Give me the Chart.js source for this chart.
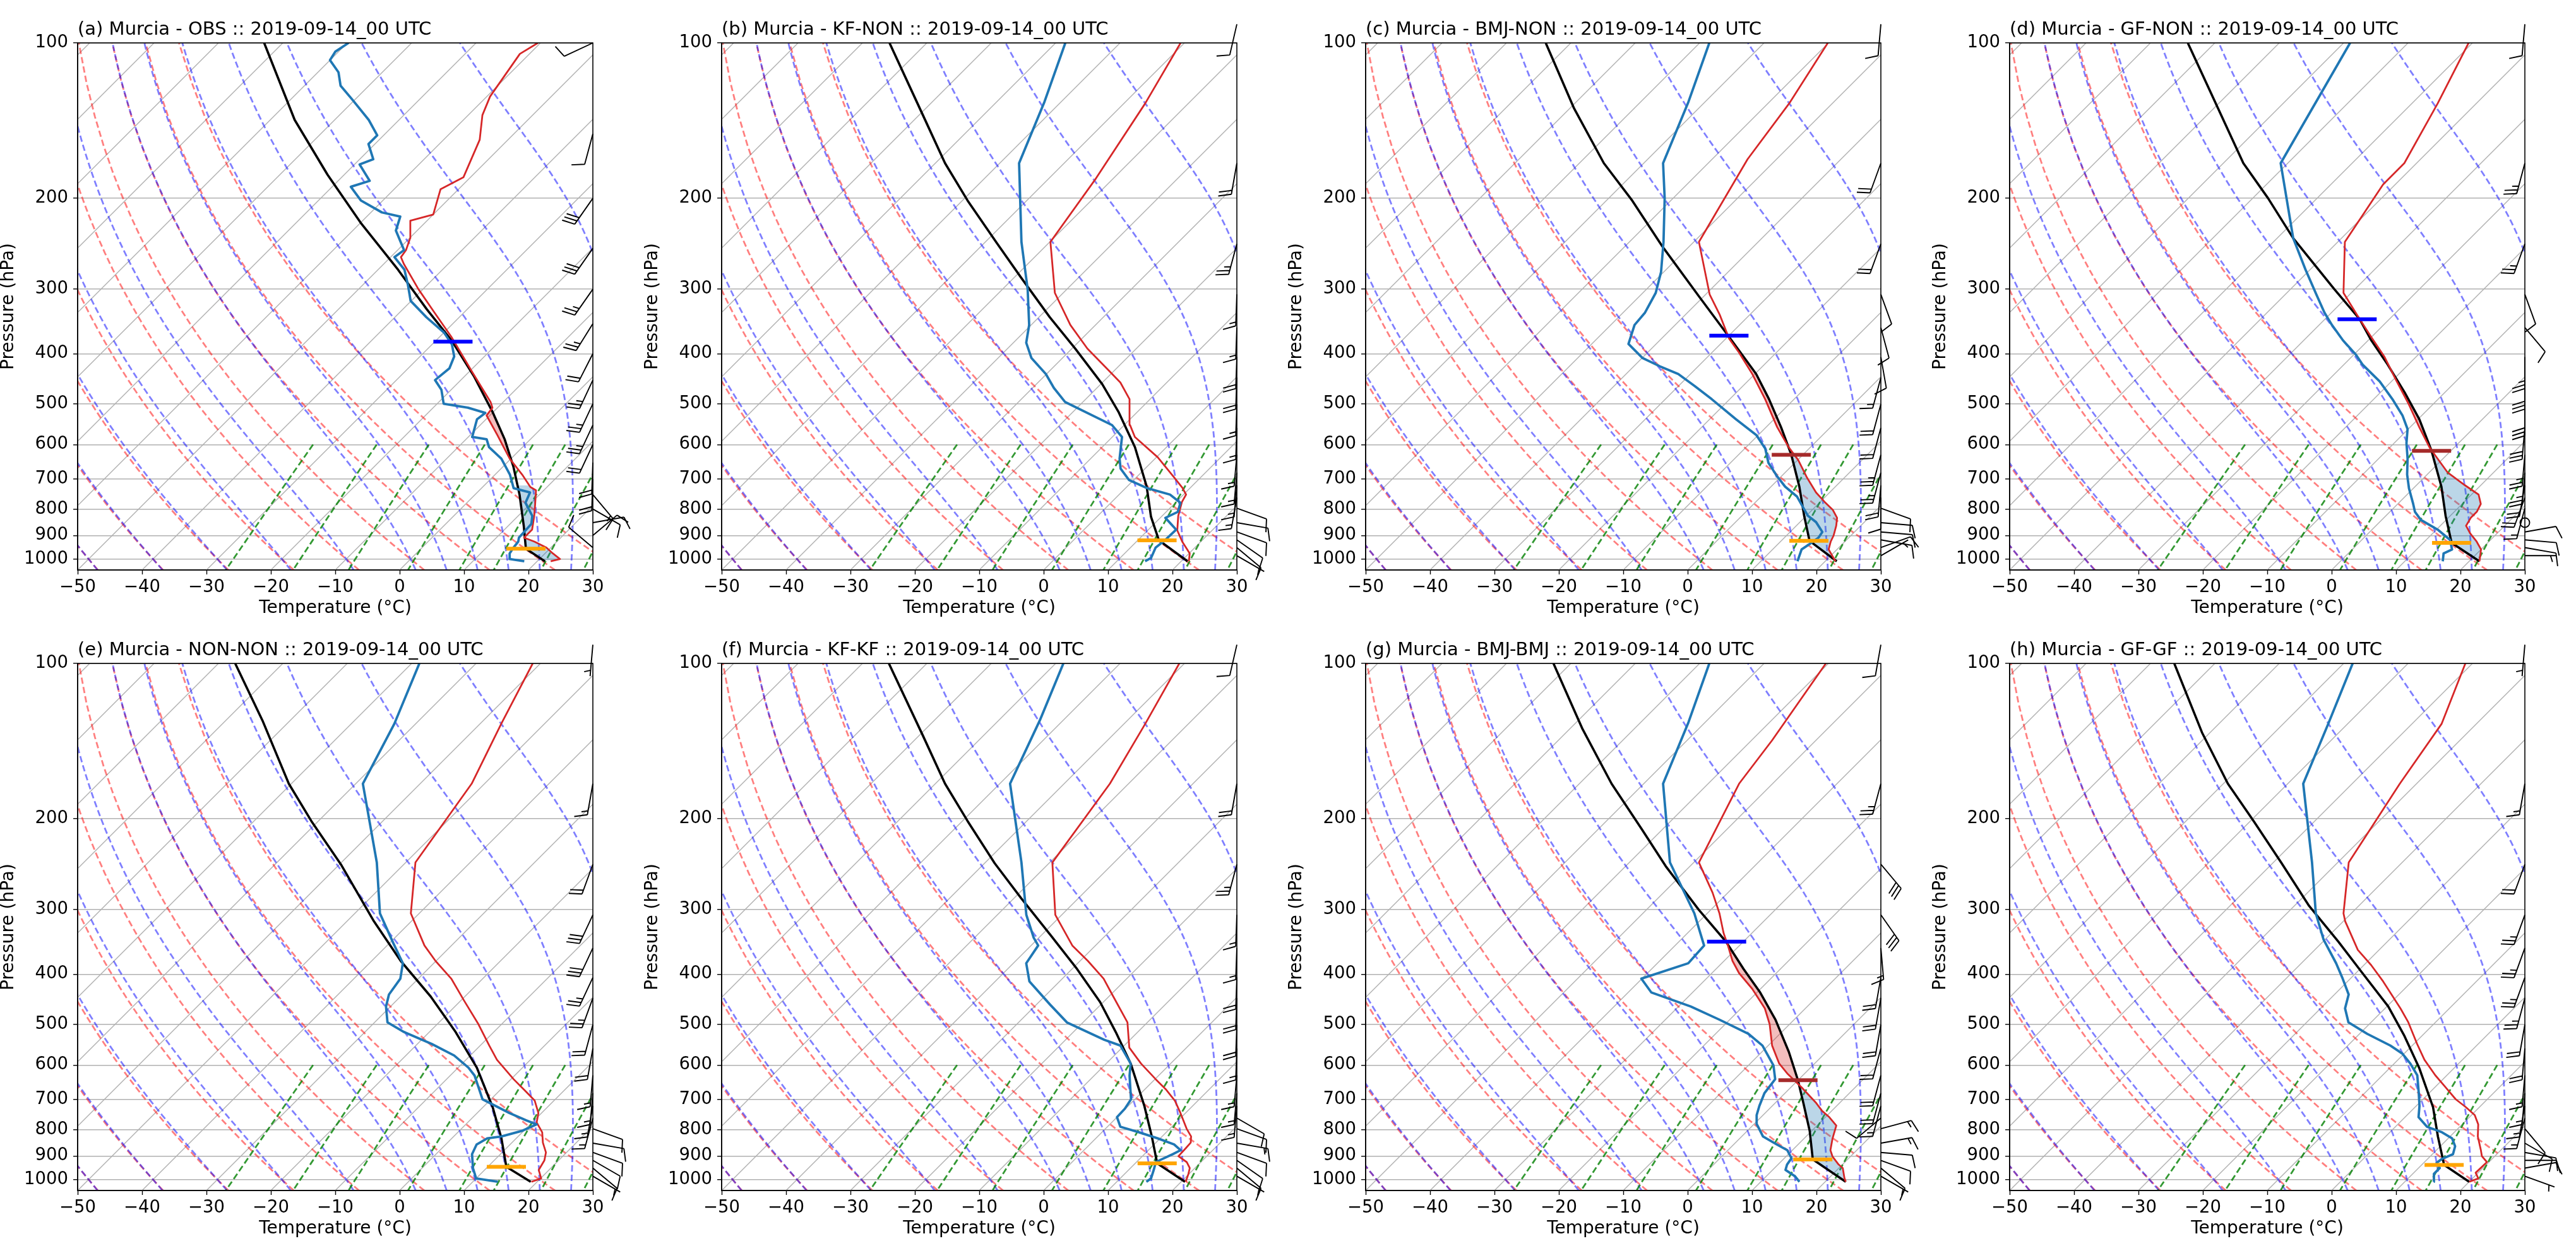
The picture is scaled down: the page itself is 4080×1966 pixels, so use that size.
<!DOCTYPE html>
<html>
<head>
<meta charset="utf-8">
<script src="https://cdn.jsdelivr.net/npm/chart.js@4.4.0/dist/chart.umd.min.js"></script>
<style>
  html, body { margin: 0; padding: 0; background: #fff; }
  #grid { position: relative; width: 4080px; height: 1966px; }
  #grid canvas { position: absolute; }
</style>
</head>
<body>
<div id="grid"></div>
<script>
// ---- axis ticks ----
const X_TICKS = [-50, -40, -30, -20, -10, 0, 10, 20, 30];
const P_TICKS = [100, 200, 300, 400, 500, 600, 700, 800, 900, 1000];

// ---- background line families ----
const ISO_T = [-130, -120, -110, -100, -90, -80, -70, -60, -50, -40, -30, -20, -10, 0, 10, 20, 30];
const DRY_T0 = [-50, -40, -30, -20, -10, 0, 10, 20, 30];
const MOIST_T0 = [-50, -40, -30, -20, -10, 0, 5, 10, 15, 20, 25, 30];
const MIX_W = [0.0004, 0.001, 0.002, 0.004, 0.007, 0.01, 0.016, 0.024, 0.032];

const TITLES = [
  '(a) Murcia - OBS :: 2019-09-14_00 UTC',
  '(b) Murcia - KF-NON :: 2019-09-14_00 UTC',
  '(c) Murcia - BMJ-NON :: 2019-09-14_00 UTC',
  '(d) Murcia - GF-NON :: 2019-09-14_00 UTC',
  '(e) Murcia - NON-NON :: 2019-09-14_00 UTC',
  '(f) Murcia - KF-KF :: 2019-09-14_00 UTC',
  '(g) Murcia - BMJ-BMJ :: 2019-09-14_00 UTC',
  '(h) Murcia - GF-GF :: 2019-09-14_00 UTC'
];

// ---- (a) OBS ----
const pT_a = [1010,1000,975,950,925,909,877,825,780,736,725,686,639,596,575,527,509,496,434,371,334,300,268,260,252,239,221,215,192,182,154,138,127,105,100];
const T_a = [22.1,23.2,21.2,19.3,16.5,14.3,14.3,12.5,10.7,8.8,7.4,4.2,-0.2,-3.9,-5.8,-10.5,-10.8,-12.0,-19.5,-28.2,-34.4,-40.7,-46.9,-48.4,-48.7,-49.9,-52.6,-50.0,-52.8,-51.1,-54.4,-57.8,-59.5,-61.5,-60.4];
const pTd_a = [1010,1000,975,950,925,909,855,825,778,743,729,686,639,607,586,580,536,521,509,500,470,450,427,405,384,364,340,316,295,275,260,252,231,217,213,202,190,185,172,168,157,151,141,129,121,114,108,104,100];
const Td_a = [18.0,15.4,14.5,14.2,14.0,13.5,13.3,12.2,9.1,8.2,5.0,2.3,-1.5,-5.2,-6.8,-9.4,-11.4,-11.1,-14.6,-19.0,-21.5,-24.0,-23.6,-24.7,-26.9,-30.0,-35.1,-40.1,-42.9,-45.9,-49.4,-49.0,-53.3,-54.8,-58.3,-63.4,-67.1,-65.1,-69.2,-67.9,-71.0,-71.0,-74.7,-80.3,-84.4,-86.8,-90.0,-90.5,-89.8];
const pPar_a = [1010,955,862,750,662,586,518,442,377,328,275,223,180,141,100];
const Par_a = [21.2,16.3,12.4,6.9,1.6,-4.0,-10.2,-18.6,-27.6,-36.3,-46.9,-60.0,-72.6,-86.2,-102.9];

// ---- (b) KF-NON ----
const pT_b = [1010,975,925,880,825,775,750,728,695,635,580,550,490,455,438,391,352,305,243,183,131,100];
const T_b = [21.2,20.1,17.1,14.6,12.5,10.9,10.4,8.8,5.9,0.2,-6.5,-9.1,-13.2,-17.2,-19.8,-27.6,-33.9,-41.3,-49.9,-52.7,-56.7,-60.6];
const pTd_b = [1010,995,950,922,877,832,810,778,750,729,703,668,639,580,550,496,466,438,408,381,352,300,243,171,130,100];
const Td_b = [14.4,14.8,13.9,14.2,14.3,10.8,11.8,10.8,7.9,3.4,-0.7,-3.8,-5.5,-8.5,-11.9,-22.8,-26.7,-30.1,-34.8,-38.0,-40.3,-46.1,-54.4,-67.0,-72.6,-78.5];
const pPar_b = [1010,920,828,723,607,518,458,391,340,285,244,202,171,138,100];
const Par_b = [21.0,13.3,8.4,3.0,-4.9,-13.0,-19.8,-29.5,-38.3,-48.9,-58.1,-69.2,-78.5,-89.4,-105.8];

// ---- (c) BMJ-NON ----
const pT_c = [1010,958,925,900,862,832,803,775,743,693,643,607,555,490,438,398,374,336,307,243,168,131,100];
const T_c = [21.6,18.7,17.8,17.3,16.2,15.1,13.2,10.7,7.9,4.0,0.1,-3.4,-8.3,-14.5,-20.4,-25.8,-29.5,-34.7,-39.4,-49.2,-54.5,-56.7,-60.1];
const pTd_c = [1010,958,935,909,886,848,825,797,757,724,692,651,611,575,536,490,462,438,423,408,383,352,333,305,278,243,200,171,130,100];
const Td_c = [15.7,14.5,14.9,15.3,15.0,12.5,10.3,8.4,5.6,2.2,-0.6,-4.1,-6.8,-10.3,-15.9,-22.8,-27.5,-31.9,-36.0,-39.9,-44.3,-46.3,-46.6,-48.0,-50.4,-54.7,-61.3,-67.0,-72.6,-78.5];
const pPar_c = [1010,922,825,724,628,555,490,438,371,310,247,202,171,134,100];
const Par_c = [21.8,14.4,9.7,4.4,-1.8,-7.7,-13.9,-19.8,-29.8,-40.7,-54.4,-66.0,-76.2,-89.3,-103.9];

// ---- (d) GF-NON ----
const pT_d = [1010,958,925,893,862,832,810,782,750,720,680,632,607,555,500,450,405,371,340,305,243,188,171,131,100];
const T_d = [21.6,20.0,18.1,15.9,14.0,13.5,13.5,12.9,11.1,7.6,2.9,-1.5,-3.9,-8.6,-13.9,-19.5,-25.0,-30.1,-35.1,-41.2,-48.9,-51.9,-51.9,-56.0,-60.6];
const pTd_d = [1010,975,958,918,877,840,810,782,729,686,639,596,560,527,490,453,420,401,377,352,333,307,275,239,171,100];
const Td_d = [15.9,14.8,15.5,13.7,10.2,6.1,3.9,2.4,-0.7,-3.1,-5.5,-8.1,-10.1,-13.0,-17.1,-21.8,-27.1,-29.8,-33.9,-38.0,-41.1,-45.2,-50.7,-57.5,-71.1,-79.0];
const pPar_d = [1010,930,825,724,617,536,475,420,377,343,300,239,200,171,134,100];
const Par_d = [21.6,14.4,9.3,4.1,-3.0,-9.8,-16.3,-23.2,-29.5,-34.6,-43.2,-57.5,-67.6,-76.9,-89.3,-104.2];

// ---- (e) NON-NON ----
const pT_e = [1010,995,958,918,886,848,810,775,743,703,674,639,586,550,500,450,408,377,352,305,243,171,131,100];
const T_e = [19.1,20.1,18.4,17.8,16.8,14.8,13.1,10.7,9.5,7.0,4.1,0.4,-5.2,-8.6,-13.6,-19.5,-24.9,-30.1,-34.2,-41.3,-48.5,-52.0,-56.7,-61.2];
const pTd_e = [1010,995,950,893,855,832,825,805,782,768,743,699,629,607,575,546,518,496,462,438,408,381,349,305,243,171,131,100];
const Td_e = [13.9,10.0,7.9,5.6,4.8,5.5,7.4,9.7,11.0,8.8,5.0,-1.3,-6.2,-8.4,-12.5,-17.8,-23.9,-28.0,-30.7,-32.1,-32.8,-34.8,-39.3,-46.1,-54.5,-68.9,-73.3,-78.8];
const pPar_e = [1010,945,832,724,607,518,442,377,316,245,202,171,129,100];
const Par_e = [19.0,12.9,7.7,1.5,-7.1,-15.9,-25.3,-35.5,-45.8,-59.8,-71.1,-80.4,-94.3,-107.4];

// ---- (f) KF-KF ----
const pT_f = [1010,975,950,925,901,870,848,825,797,743,703,668,639,596,555,496,438,408,377,352,307,243,171,131,100];
const T_f = [20.7,19.9,19.2,17.8,15.6,15.5,15.4,14.5,12.6,9.2,6.4,3.2,0.1,-4.6,-8.9,-13.1,-19.8,-23.6,-28.8,-33.6,-41.0,-49.6,-52.9,-56.7,-60.8];
const pTd_f = [1010,995,958,925,913,893,877,855,832,810,790,757,729,699,629,596,550,536,496,458,413,381,352,340,307,243,171,129,100];
const Td_f = [14.6,14.8,13.9,13.0,13.5,14.4,15.0,13.1,9.6,5.8,2.0,0.0,-0.1,-0.6,-4.5,-6.2,-10.6,-14.0,-22.5,-27.9,-34.7,-38.0,-38.9,-40.8,-45.5,-54.4,-68.4,-73.6,-78.8];
const pPar_f = [1010,930,825,720,596,518,453,391,336,285,244,202,171,138,100];
const Par_f = [20.6,13.4,8.4,2.5,-6.2,-13.4,-20.5,-29.2,-38.6,-48.9,-58.4,-69.2,-78.5,-89.4,-105.9];

// ---- (g) BMJ-BMJ ----
const pT_g = [1010,993,950,935,902,877,832,786,757,736,711,662,623,596,550,500,466,427,398,377,352,333,305,278,243,171,141,100];
const T_g = [23.2,22.4,20.6,19.4,17.2,15.9,14.4,13.0,10.6,8.5,6.4,1.6,-2.7,-5.5,-9.4,-13.1,-16.3,-21.3,-25.8,-28.7,-31.8,-34.4,-38.1,-42.4,-49.2,-55.2,-56.8,-60.4];
const pTd_g = [1010,986,958,935,909,877,855,825,782,750,720,680,639,601,550,522,490,462,434,408,381,352,305,243,171,130,100];
const Td_g = [16.0,14.5,12.0,11.4,11.1,9.2,6.7,3.3,0.5,-1.0,-2.0,-3.2,-3.7,-6.1,-10.9,-14.9,-21.6,-28.1,-36.4,-40.1,-35.2,-35.5,-42.0,-53.7,-67.0,-72.6,-78.5];
const pPar_g = [1010,914,805,711,642,566,490,434,391,346,300,247,210,171,134,100];
const Par_g = [23.2,14.6,9.7,4.4,0.0,-5.8,-12.9,-19.5,-25.7,-32.7,-41.9,-53.8,-63.1,-75.0,-88.0,-102.7];

// ---- (h) GF-GF ----
const pT_h = [1010,995,970,925,901,877,825,782,750,724,699,662,628,586,546,496,466,413,384,359,316,305,243,171,131,100];
const T_h = [20.0,20.9,19.6,19.7,18.0,16.9,14.3,12.5,10.5,7.9,5.1,1.6,-1.8,-5.9,-9.5,-14.2,-17.6,-24.5,-28.9,-33.3,-39.7,-41.2,-48.3,-52.6,-55.4,-61.1];
const pTd_h = [1010,975,950,928,913,893,862,832,810,790,757,720,680,628,596,570,550,522,496,466,438,408,381,343,305,243,171,131,100];
const Td_h = [14.5,13.3,13.3,12.0,12.2,13.2,12.3,10.6,8.1,4.9,2.1,0.5,-1.6,-4.6,-7.5,-10.3,-13.4,-18.8,-23.5,-26.2,-27.8,-31.2,-34.6,-40.2,-45.5,-54.0,-67.6,-73.0,-78.6];
const pPar_h = [1010,937,825,724,607,527,462,398,346,295,243,202,171,136,100];
const Par_h = [20.0,13.5,8.1,2.8,-5.5,-12.7,-19.8,-29.0,-37.6,-47.7,-58.8,-69.5,-79.3,-91.3,-106.3];

// ---- parcel levels (per panel a..h), null = not present ----
const lclP = [955, 920, 922, 930, 945, 930, 914, 937];
const lclT = [16.3, 13.0, 14.3, 14.4, 12.9, 13.4, 14.6, 13.5];
const lfcP = [null, null, 628, 617, null, null, 642, null];
const lfcT = [null, null, -1.8, -3.0, null, null, 0.0, null];
const elP = [379, null, 369, 343, null, null, 346, null];
const elT = [-27.2, null, -30.0, -35.0, null, null, -32.6, null];

// shaded layers (pressure bounds)
const capeTop = [500, null, 369, 343, null, null, 346, null];
const capeBot = [620, null, 628, 617, null, null, 642, null];
const cinTop = [720, null, 628, 617, null, null, 642, null];
const cinBot = [1005, null, 1010, 1010, null, null, 1010, null];

// ---- wind barbs (direction from, deg; speed, kt) ----
const obsBarbP = [100,150,200,250,300,350,400,450,500,550,600,650,700,750,800,850,900,950];
const modelBarbP = [92,171,245,307,356,406,445,501,557,628,680,720,760,797,850,886,918,950,985];
const barbDir_a = [245,195,215,215,215,212,207,205,205,205,205,182,182,140,120,80,50,310];
const barbSpd_a = [10,10,30,30,25,25,20,25,25,25,20,20,20,15,10,10,10,10];
const barbDir_b = [193,190,195,182,182,182,182,182,182,185,185,185,190,110,100,110,125,130,120];
const barbSpd_b = [10,20,25,15,15,20,20,15,15,15,15,15,15,10,10,10,10,10,5];
const barbDir_c = [185,200,200,160,165,170,195,195,195,195,195,185,180,110,95,95,100,70,60];
const barbSpd_c = [10,20,20,10,10,10,15,20,20,25,25,20,10,10,10,10,10,10,5];
const barbDir_d = [185,195,200,160,140,180,180,180,185,185,185,190,200,195,0,80,95,100,90];
const barbSpd_d = [10,25,25,10,10,25,30,30,30,25,25,20,20,15,0,10,10,10,5];
const barbDir_e = [185,190,200,205,205,205,200,195,190,185,185,190,195,110,100,110,120,130,120];
const barbSpd_e = [5,15,20,30,30,25,25,20,20,15,15,15,15,10,10,10,10,10,5];
const barbDir_f = [193,190,195,182,182,182,182,182,182,185,185,185,120,110,100,110,125,130,120];
const barbSpd_f = [10,20,25,15,15,20,20,20,15,15,15,15,10,10,15,10,10,10,5];
const barbDir_g = [190,195,140,145,175,190,190,190,195,195,195,195,230,75,80,95,110,130,120];
const barbSpd_g = [10,25,30,30,15,20,20,20,20,20,20,15,10,15,15,10,10,10,5];
const barbDir_h = [185,190,200,200,200,200,195,190,185,185,185,190,195,140,120,100,90,80,110];
const barbSpd_h = [5,15,20,25,25,25,25,20,20,15,15,15,15,10,10,10,10,10,5];

// ---------------------------------------------------------------------
Chart.defaults.font.family = "'DejaVu Sans', sans-serif";
Chart.defaults.font.size = 28;
Chart.defaults.color = '#000';

const P_BOT = 1050, P_TOP = 100;
const AREA = { left: 123, top: 68, right: 939, bottom: 903 };
const CW = 1020, CH = 983;
// 45 degree skew in pixels: degC shift per decade of pressure
const SKEW = ((AREA.bottom - AREA.top) / Math.log10(P_BOT / P_TOP)) / ((AREA.right - AREA.left) / 80);
const skx = (t, p) => t + SKEW * Math.log10(P_BOT / p);

const RD = 287.04749, CPD = 1004.6662, LV = 2.50084e6, EPS = 0.6219569, KAPPA = RD / CPD;

function linspace(a, b, n) {
  const out = [];
  for (let i = 0; i < n; i++) out.push(a + (b - a) * i / (n - 1));
  return out;
}
const PRES50 = linspace(P_BOT, P_TOP, 50);
const PRES_MIX = linspace(600, P_BOT, 50);

function moistLapse(p, T) {
  const es = 6.112 * Math.exp(17.67 * (T - 273.15) / (T - 29.65));
  const rs = EPS * es / (p - es);
  return (RD * T + LV * rs) / (CPD + LV * LV * rs * EPS / (RD * T * T)) / p;
}
function rk4(p, T, h) {
  const k1 = moistLapse(p, T);
  const k2 = moistLapse(p + h / 2, T + h * k1 / 2);
  const k3 = moistLapse(p + h / 2, T + h * k2 / 2);
  const k4 = moistLapse(p + h, T + h * k3);
  return T + h * (k1 + 2 * k2 + 2 * k3 + k4) / 6;
}
function moistCurve(t0) {
  const down = [];
  let T = t0 + 273.15;
  for (let p = 1000; p < P_BOT; p += 5) { T = rk4(p, T, 5); down.push([p + 5, T]); }
  T = t0 + 273.15;
  const up = [[1000, T]];
  for (let p = 1000; p > P_TOP; p -= 5) { T = rk4(p, T, -5); up.push([p - 5, T]); }
  return down.reverse().concat(up);
}
const MOIST_CURVES = MOIST_T0.map(moistCurve);

function dewFromVap(e) {
  const v = Math.log(e / 6.112);
  return 243.5 * v / (17.67 - v);
}

function interpAt(P, T, p) {
  const lp = Math.log(p);
  for (let i = 0; i < P.length - 1; i++) {
    if (p <= P[i] && p >= P[i + 1]) {
      const a = Math.log(P[i]), b = Math.log(P[i + 1]);
      return T[i] + (T[i + 1] - T[i]) * (lp - a) / (b - a);
    }
  }
  return p > P[0] ? T[0] : T[T.length - 1];
}

// closed polygon between environment and parcel curves
function shadePoly(envP, envT, parP, parT, pLo, pHi, cape) {
  const n = 90, left = [], right = [];
  for (let k = 0; k <= n; k++) {
    const p = pHi * Math.pow(pLo / pHi, k / n);
    const te = interpAt(envP, envT, p), tp = interpAt(parP, parT, p);
    const a = cape ? te : tp;
    const b = Math.max(te, tp);
    left.push({ x: skx(a, p), y: p });
    right.push({ x: skx(b, p), y: p });
  }
  return left.concat(right.reverse());
}

const prof = (P, T) => P.map((p, i) => ({ x: skx(T[i], p), y: p }));

function lineDS(data, color, width, dash, order) {
  return { data, borderColor: color, backgroundColor: color, borderWidth: width, borderDash: dash || [],
           pointRadius: 0, pointHoverRadius: 0, fill: false, tension: 0, order,
           borderCapStyle: 'butt', borderJoinStyle: 'round' };
}
function markerDS(p, t, color) {
  return { data: [{ x: skx(t, p), y: p }], showLine: false, pointStyle: 'line',
           pointRadius: 31, pointHoverRadius: 31, pointBorderWidth: 6,
           pointBorderColor: color, pointBackgroundColor: color, borderColor: color, order: 0 };
}

function drawBarb(ctx, x0, y0, dirDeg, spd) {
  const L = 50, fh = 0.4 * L, fw = 0.25 * L, sp = 0.125 * L;
  let mag = 5 * Math.round(spd / 5);
  const nFlag = Math.floor(mag / 50); mag -= nFlag * 50;
  const nFull = Math.floor(mag / 10); mag -= nFull * 10;
  const half = mag >= 5;
  if (!nFlag && !nFull && !half) {
    ctx.beginPath(); ctx.arc(x0, y0, 0.15 * L, 0, 2 * Math.PI); ctx.stroke();
    return;
  }
  const rad = dirDeg * Math.PI / 180;
  const u = -Math.sin(rad), v = -Math.cos(rad);
  const ang = Math.atan2(v, u) + Math.PI / 2;
  const c = Math.cos(ang), s = Math.sin(ang);
  const P = (bx, by) => [x0 + bx * c - by * s, y0 - (bx * s + by * c)];
  ctx.beginPath();
  ctx.moveTo(...P(0, 0));
  ctx.lineTo(...P(0, L));
  let off = L;
  for (let i = 0; i < nFlag; i++) {
    if (off !== L) off += sp / 2;
    ctx.moveTo(...P(0, off));
    ctx.lineTo(...P(fh, off - fw / 2));
    ctx.lineTo(...P(0, off - fw));
    off -= fw + sp;
  }
  for (let i = 0; i < nFull; i++) {
    ctx.moveTo(...P(0, off));
    ctx.lineTo(...P(fh, off + fw / 2));
    off -= sp;
  }
  if (half) {
    if (off === L) off -= 1.5 * sp;
    ctx.moveTo(...P(0, off));
    ctx.lineTo(...P(fh / 2, off + fw / 4));
  }
  ctx.stroke();
}

const fmtTemp = v => (v < 0 ? '\u2212' + Math.abs(v) : String(v));

const panels = [
  { tP: pT_a, t: T_a, dP: pTd_a, d: Td_a, pP: pPar_a, pr: Par_a, bP: obsBarbP, bD: barbDir_a, bS: barbSpd_a },
  { tP: pT_b, t: T_b, dP: pTd_b, d: Td_b, pP: pPar_b, pr: Par_b, bP: modelBarbP, bD: barbDir_b, bS: barbSpd_b },
  { tP: pT_c, t: T_c, dP: pTd_c, d: Td_c, pP: pPar_c, pr: Par_c, bP: modelBarbP, bD: barbDir_c, bS: barbSpd_c },
  { tP: pT_d, t: T_d, dP: pTd_d, d: Td_d, pP: pPar_d, pr: Par_d, bP: modelBarbP, bD: barbDir_d, bS: barbSpd_d },
  { tP: pT_e, t: T_e, dP: pTd_e, d: Td_e, pP: pPar_e, pr: Par_e, bP: modelBarbP, bD: barbDir_e, bS: barbSpd_e },
  { tP: pT_f, t: T_f, dP: pTd_f, d: Td_f, pP: pPar_f, pr: Par_f, bP: modelBarbP, bD: barbDir_f, bS: barbSpd_f },
  { tP: pT_g, t: T_g, dP: pTd_g, d: Td_g, pP: pPar_g, pr: Par_g, bP: modelBarbP, bD: barbDir_g, bS: barbSpd_g },
  { tP: pT_h, t: T_h, dP: pTd_h, d: Td_h, pP: pPar_h, pr: Par_h, bP: modelBarbP, bD: barbDir_h, bS: barbSpd_h }
];

function buildDatasets(k) {
  const pn = panels[k];
  const ds = [];
  // markers
  ds.push(markerDS(lclP[k], lclT[k], '#ffa500'));
  if (lfcP[k] !== null) ds.push(markerDS(lfcP[k], lfcT[k], '#a52a2a'));
  if (elP[k] !== null) ds.push(markerDS(elP[k], elT[k], '#0000ff'));
  // profiles
  ds.push(lineDS(prof(pn.dP, pn.d), '#1f77b4', 3.8, null, 2));
  ds.push(lineDS(prof(pn.tP, pn.t), '#d62728', 2.8, null, 2));
  ds.push(lineDS(prof(pn.pP, pn.pr), '#000000', 3.6, null, 2));
  // shading
  if (capeTop[k] !== null) {
    ds.push({ data: shadePoly(pn.tP, pn.t, pn.pP, pn.pr, capeTop[k], capeBot[k], true),
              borderWidth: 0, borderColor: 'rgba(0,0,0,0)', backgroundColor: 'rgba(214,39,40,0.3)',
              fill: 'shape', pointRadius: 0, tension: 0, order: 5 });
  }
  if (cinTop[k] !== null) {
    ds.push({ data: shadePoly(pn.tP, pn.t, pn.pP, pn.pr, cinTop[k], cinBot[k], false),
              borderWidth: 0, borderColor: 'rgba(0,0,0,0)', backgroundColor: 'rgba(31,119,180,0.3)',
              fill: 'shape', pointRadius: 0, tension: 0, order: 5 });
  }
  const dash = [10, 5];
  // mixing ratio lines
  MIX_W.forEach(w => {
    ds.push(lineDS(PRES_MIX.map(p => ({ x: skx(dewFromVap(w * p / (EPS + w)), p), y: p })), 'rgba(0,128,0,0.8)', 2.8, dash, 8));
  });
  // moist adiabats
  MOIST_CURVES.forEach(cv => {
    ds.push(lineDS(cv.map(([p, T]) => ({ x: skx(T - 273.15, p), y: p })), 'rgba(0,0,255,0.5)', 2.8, dash, 9));
  });
  // dry adiabats
  DRY_T0.forEach(t0 => {
    ds.push(lineDS(PRES50.map(p => ({ x: skx((t0 + 273.15) * Math.pow(p / 1000, KAPPA) - 273.15, p), y: p })), 'rgba(255,0,0,0.5)', 2.8, dash, 10));
  });
  // isotherms
  ISO_T.forEach(t => {
    ds.push(lineDS([{ x: skx(t, P_BOT), y: P_BOT }, { x: skx(t, P_TOP), y: P_TOP }], '#b0b0b0', 1.4, null, 11));
  });
  return ds;
}

const host = document.getElementById('grid');
panels.forEach((pn, k) => {
  const cv = document.createElement('canvas');
  cv.width = CW; cv.height = CH;
  cv.style.width = CW + 'px'; cv.style.height = CH + 'px';
  cv.style.left = (k % 4) * CW + 'px';
  cv.style.top = Math.floor(k / 4) * CH + 'px';
  host.appendChild(cv);

  const decor = {
    id: 'decor' + k,
    afterDatasetsDraw(chart) {
      const { ctx, chartArea: a } = chart;
      ctx.save();
      ctx.strokeStyle = '#000';
      ctx.lineWidth = 1.6;
      ctx.strokeRect(a.left, a.top, a.right - a.left, a.bottom - a.top);
      ctx.restore();
    },
    afterDraw(chart) {
      const { ctx, chartArea: a, scales } = chart;
      ctx.save();
      ctx.fillStyle = '#000';
      ctx.font = "29px 'DejaVu Sans'";
      ctx.textAlign = 'left';
      ctx.textBaseline = 'alphabetic';
      ctx.fillText(TITLES[k], a.left, 55);
      ctx.strokeStyle = '#000';
      ctx.lineWidth = 1.9;
      ctx.lineJoin = 'miter';
      pn.bP.forEach((p, i) => drawBarb(ctx, a.right, scales.y.getPixelForValue(p), pn.bD[i], pn.bS[i]));
      ctx.restore();
    }
  };

  new Chart(cv, {
    type: 'line',
    data: { datasets: buildDatasets(k) },
    options: {
      responsive: false,
      animation: false,
      devicePixelRatio: 1,
      events: [],
      layout: { padding: { left: 0, top: AREA.top, right: CW - AREA.right, bottom: 0 } },
      plugins: { legend: { display: false }, tooltip: { enabled: false }, title: { display: false } },
      scales: {
        x: {
          type: 'linear', min: -50, max: 30,
          afterBuildTicks: s => { s.ticks = X_TICKS.map(v => ({ value: v })); },
          ticks: { autoSkip: false, maxRotation: 0, padding: 4, font: { size: 27.5 }, color: '#000', callback: v => fmtTemp(v) },
          grid: { drawOnChartArea: false, drawTicks: true, tickLength: 7, tickColor: '#000', tickWidth: 1.4 },
          border: { display: true, color: '#000', width: 1.6 },
          title: { display: true, text: 'Temperature (\u00b0C)', font: { size: 28 }, color: '#000', padding: { top: 0, bottom: 2 } },
          afterFit: s => { s.height = CH - AREA.bottom; }
        },
        y: {
          type: 'logarithmic', reverse: true, min: P_TOP, max: P_BOT,
          afterBuildTicks: s => { s.ticks = P_TICKS.map(v => ({ value: v })); },
          ticks: { autoSkip: false, padding: 8, font: { size: 27.5 }, color: '#000', callback: v => String(v) },
          grid: { color: '#b0b0b0', lineWidth: 1.5, drawTicks: true, tickLength: 7, tickColor: '#000', tickWidth: 1.4 },
          border: { display: true, color: '#000', width: 1.6 },
          title: { display: true, text: 'Pressure (hPa)', font: { size: 28, lineHeight: 1 }, color: '#000', padding: 0 },
          afterFit: s => { s.width = AREA.left; }
        }
      }
    },
    plugins: [decor]
  });
});
</script>
</body>
</html>
